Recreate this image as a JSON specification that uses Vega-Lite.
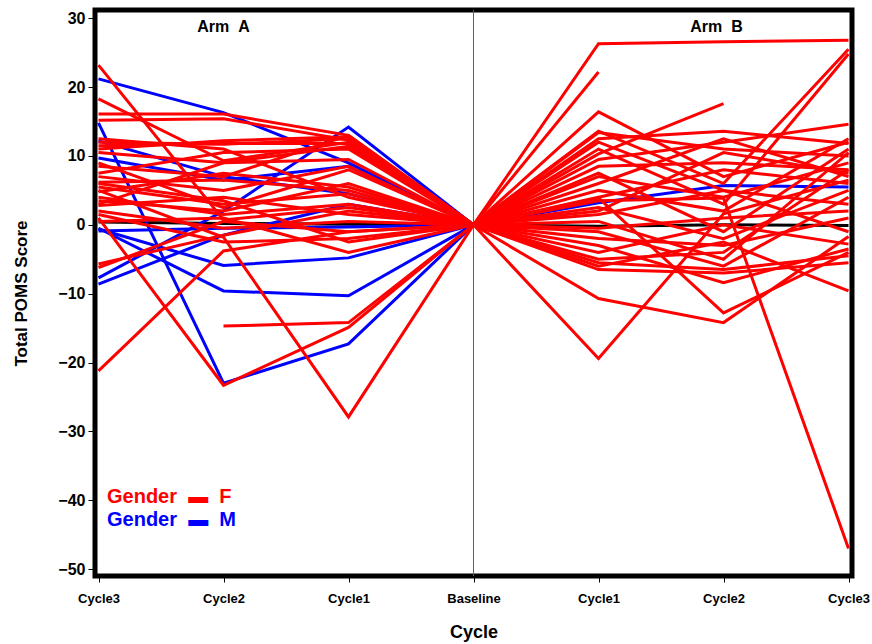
{
  "$schema": "https://vega.github.io/schema/vega-lite/v6.json",
  "autosize": "none",
  "padding": {"left": 95, "top": 10, "right": 20, "bottom": 68},
  "width": 757,
  "height": 566,
  "background": "white",
  "config": {
    "view": {"stroke": "black", "strokeWidth": 5},
    "font": "Liberation Sans",
    "axis": {"labelFont": "Liberation Sans", "titleFont": "Liberation Sans", "labelFontWeight": "bold", "titleFontWeight": "bold", "labelColor": "black", "titleColor": "black", "tickColor": "black", "domain": false, "grid": false}
  },
  "data": {"values": [
    {"id":"AK","g":"K","p0":0.4,"p1":0.2,"p2":0.1,"p3":0},
    {"id":"BK","g":"K","p3":0,"p4":-0.2,"p5":0,"p6":-0.1},
    {"id":"AM1","g":"M","p0":21.2,"p1":16.3,"p2":9.0,"p3":0},
    {"id":"AM2","g":"M","p0":-7.7,"p1":2.0,"p2":14.2,"p3":0},
    {"id":"AM3","g":"M","p0":14.8,"p1":-23.0,"p2":-17.3,"p3":0},
    {"id":"AM4","g":"M","p0":-0.6,"p1":-5.9,"p2":-4.8,"p3":0},
    {"id":"AM5","g":"M","p0":-0.5,"p1":-9.6,"p2":-10.3,"p3":0},
    {"id":"AM6","g":"M","p0":-8.6,"p1":-1.5,"p2":3.0,"p3":0},
    {"id":"AM7","g":"M","p0":9.7,"p1":6.5,"p2":8.5,"p3":0},
    {"id":"AM8","g":"M","p0":12.2,"p1":7.0,"p2":4.5,"p3":0},
    {"id":"AM9","g":"M","p0":-0.9,"p1":-0.5,"p2":-0.3,"p3":0},
    {"id":"BM1","g":"M","p3":0,"p4":3.2,"p5":5.7,"p6":5.5},
    {"id":"AF1","g":"F","p0":23.2,"p1":0.7,"p2":2.5,"p3":0},
    {"id":"AF2","g":"F","p0":18.3,"p1":9.3,"p2":12.0,"p3":0},
    {"id":"AF3","g":"F","p0":16.1,"p1":16.1,"p2":13.0,"p3":0},
    {"id":"AF4","g":"F","p0":15.2,"p1":15.4,"p2":12.3,"p3":0},
    {"id":"AF5","g":"F","p0":12.0,"p1":11.7,"p2":12.5,"p3":0},
    {"id":"AF6","g":"F","p0":11.5,"p1":11.8,"p2":11.8,"p3":0},
    {"id":"AF7","g":"F","p0":11.0,"p1":12.2,"p2":12.8,"p3":0},
    {"id":"AF8","g":"F","p0":10.5,"p1":9.0,"p2":11.4,"p3":0},
    {"id":"AF9","g":"F","p0":8.5,"p1":7.0,"p2":13.0,"p3":0},
    {"id":"AF10","g":"F","p0":7.5,"p1":10.5,"p2":11.0,"p3":0},
    {"id":"AF11","g":"F","p0":7.0,"p1":5.0,"p2":8.5,"p3":0},
    {"id":"AF12","g":"F","p0":6.2,"p1":6.5,"p2":5.0,"p3":0},
    {"id":"AF13","g":"F","p0":5.5,"p1":3.0,"p2":4.5,"p3":0},
    {"id":"AF14","g":"F","p0":4.8,"p1":7.5,"p2":5.5,"p3":0},
    {"id":"AF15","g":"F","p0":4.0,"p1":1.5,"p2":3.0,"p3":0},
    {"id":"AF16","g":"F","p0":3.5,"p1":2.0,"p2":6.0,"p3":0},
    {"id":"AF17","g":"F","p0":2.8,"p1":4.0,"p2":1.5,"p3":0},
    {"id":"AF18","g":"F","p0":2.0,"p1":-0.5,"p2":0.5,"p3":0},
    {"id":"AF19","g":"F","p0":1.5,"p1":-2.5,"p2":-2.0,"p3":0},
    {"id":"AF20","g":"F","p0":1.0,"p1":-23.3,"p2":-14.9,"p3":0},
    {"id":"AF21","g":"F","p0":5.0,"p1":-1.8,"p2":-27.9,"p3":0},
    {"id":"AF22","g":"F","p0":-5.7,"p1":-1.5,"p2":2.0,"p3":0},
    {"id":"AF23","g":"F","p0":-6.2,"p1":0.5,"p2":-1.0,"p3":0},
    {"id":"AF24","g":"F","p0":-21.2,"p1":-3.8,"p2":-1.0,"p3":0},
    {"id":"AF25","g":"F","p1":-14.7,"p2":-14.2,"p3":0},
    {"id":"AF26","g":"F","p0":0.5,"p1":1.0,"p2":-4.0,"p3":0},
    {"id":"AF27","g":"F","p0":9.0,"p1":2.5,"p2":8.0,"p3":0},
    {"id":"AF28","g":"F","p0":12.5,"p1":11.0,"p2":4.0,"p3":0},
    {"id":"AF29","g":"F","p0":3.0,"p1":9.0,"p2":9.5,"p3":0},
    {"id":"AF30","g":"F","p0":6.0,"p1":3.5,"p2":-2.5,"p3":0},
    {"id":"BF1","g":"F","p3":0,"p4":26.3,"p5":26.6,"p6":26.8},
    {"id":"BF2","g":"F","p3":0,"p4":22.2},
    {"id":"BF3","g":"F","p3":0,"p4":16.4,"p5":7.0,"p6":12.0},
    {"id":"BF4","g":"F","p3":0,"p4":13.6,"p5":6.0,"p6":25.5},
    {"id":"BF5","g":"F","p3":0,"p4":13.4,"p5":11.0,"p6":10.0},
    {"id":"BF6","g":"F","p3":0,"p4":12.5,"p5":13.6,"p6":11.8},
    {"id":"BF7","g":"F","p3":0,"p4":10.3,"p5":17.6},
    {"id":"BF8","g":"F","p3":0,"p4":11.0,"p5":3.0,"p6":24.8},
    {"id":"BF9","g":"F","p3":0,"p4":9.5,"p5":12.0,"p6":14.6},
    {"id":"BF10","g":"F","p3":0,"p4":8.5,"p5":9.0,"p6":8.0},
    {"id":"BF11","g":"F","p3":0,"p4":7.0,"p5":4.0,"p6":9.0},
    {"id":"BF12","g":"F","p3":0,"p4":6.0,"p5":12.5,"p6":7.0},
    {"id":"BF13","g":"F","p3":0,"p4":5.0,"p5":2.0,"p6":12.5},
    {"id":"BF14","g":"F","p3":0,"p4":4.0,"p5":8.0,"p6":6.0},
    {"id":"BF15","g":"F","p3":0,"p4":3.9,"p5":-12.8,"p6":-4.0},
    {"id":"BF16","g":"F","p3":0,"p4":3.5,"p5":3.9,"p6":-47.0},
    {"id":"BF17","g":"F","p3":0,"p4":2.5,"p5":-2.0,"p6":5.0},
    {"id":"BF18","g":"F","p3":0,"p4":1.5,"p5":5.0,"p6":3.0},
    {"id":"BF19","g":"F","p3":0,"p4":0.5,"p5":-5.0,"p6":10.5},
    {"id":"BF20","g":"F","p3":0,"p4":-0.5,"p5":1.0,"p6":2.0},
    {"id":"BF21","g":"F","p3":0,"p4":-1.0,"p5":-6.0,"p6":4.0},
    {"id":"BF22","g":"F","p3":0,"p4":-2.0,"p5":-3.0,"p6":1.0},
    {"id":"BF23","g":"F","p3":0,"p4":-3.0,"p5":-8.4,"p6":-3.5},
    {"id":"BF24","g":"F","p3":0,"p4":-4.0,"p5":0.0,"p6":-2.8},
    {"id":"BF25","g":"F","p3":0,"p4":-5.0,"p5":-4.0,"p6":8.0},
    {"id":"BF26","g":"F","p3":0,"p4":-5.5,"p5":-6.5,"p6":-4.5},
    {"id":"BF27","g":"F","p3":0,"p4":-6.0,"p5":-2.5,"p6":-9.6},
    {"id":"BF28","g":"F","p3":0,"p4":-6.5,"p5":-7.0,"p6":-5.5},
    {"id":"BF29","g":"F","p3":0,"p4":-10.7,"p5":-14.2,"p6":-1.7},
    {"id":"BF30","g":"F","p3":0,"p4":-19.4,"p5":1.6,"p6":6.5},
    {"id":"BF31","g":"F","p3":0,"p4":12.0,"p5":5.0,"p6":-1.0},
    {"id":"BF32","g":"F","p3":0,"p4":7.5,"p5":-1.0,"p6":11.0},
    {"id":"BF33","g":"F","p3":0,"p4":2.0,"p5":10.5,"p6":7.5}
  ]},
  "transform": [
    {"fold": ["p0","p1","p2","p3","p4","p5","p6"]},
    {"filter": "isValid(datum.value)"}
  ],
  "encoding": {
    "x": {"field": "key", "type": "ordinal",
      "scale": {"type": "point", "domain": ["p0","p1","p2","p3","p4","p5","p6"], "padding": 0.028},
      "axis": {"title": "Cycle", "labelAngle": 0, "labelFontSize": 13, "tickSize": 6, "labelPadding": 10, "titleFontSize": 18, "titlePadding": 18,
        "labelExpr": "{'p0':'Cycle3','p1':'Cycle2','p2':'Cycle1','p3':'Baseline','p4':'Cycle1','p5':'Cycle2','p6':'Cycle3'}[datum.value]"}},
    "y": {"field": "value", "type": "quantitative",
      "scale": {"domain": [-51, 31.2], "nice": false, "zero": false},
      "axis": {"title": "Total POMS Score", "values": [-50,-40,-30,-20,-10,0,10,20,30], "labelFontSize": 16, "tickSize": 7, "labelPadding": 3, "titleFontSize": 17, "titlePadding": 27}}
  },
  "layer": [
    {"transform": [{"filter": "datum.id === 'AK' && datum.key === 'p0'"}], "mark": {"type": "rule", "color": "#606060", "strokeWidth": 1}, "encoding": {"x": {"datum": "p3"}, "y": null}},
    {"transform": [{"filter": "datum.g === 'K'"}], "mark": {"type": "line", "strokeWidth": 3, "color": "black"}, "encoding": {"detail": {"field": "id"}}},
    {"transform": [{"filter": "datum.g === 'M'"}], "mark": {"type": "line", "strokeWidth": 3}, "encoding": {"detail": {"field": "id"},
      "color": {"field": "g", "type": "nominal", "scale": {"domain": ["F","M"], "range": ["#ff0000","#0000ff"]},
        "legend": {"orient": "none", "legendX": -8, "legendY": 477, "title": null, "symbolOpacity": 0, "symbolSize": 0, "symbolStrokeWidth": 0, "labelOffset": 0,
          "labelExpr": "'Gender\u00a0\u00a0▬\u00a0\u00a0' + datum.label", "labelFontSize": 20, "labelFont": "Liberation Sans", "labelFontWeight": "bold", "rowPadding": 3,
          "encode": {"labels": {"update": {"fill": {"signal": "datum.value === 'F' ? '#ff0000' : '#0000ff'"}}}}}}}},
    {"transform": [{"filter": "datum.g === 'F'"}], "mark": {"type": "line", "strokeWidth": 3}, "encoding": {"detail": {"field": "id"},
      "color": {"field": "g", "type": "nominal"}}},
    {"transform": [{"filter": "datum.id === 'AK' && datum.key === 'p0'"}], "mark": {"type": "text", "fontSize": 16, "fontWeight": "bold", "font": "Liberation Sans", "color": "black"},
      "encoding": {"x": {"datum": "p1"}, "y": {"datum": 28.8}, "text": {"value": "Arm\u00a0\u00a0A"}}},
    {"transform": [{"filter": "datum.id === 'AK' && datum.key === 'p0'"}], "mark": {"type": "text", "fontSize": 16, "fontWeight": "bold", "font": "Liberation Sans", "color": "black", "dx": -7},
      "encoding": {"x": {"datum": "p5"}, "y": {"datum": 28.8}, "text": {"value": "Arm\u00a0\u00a0B"}}}
  ]
}
